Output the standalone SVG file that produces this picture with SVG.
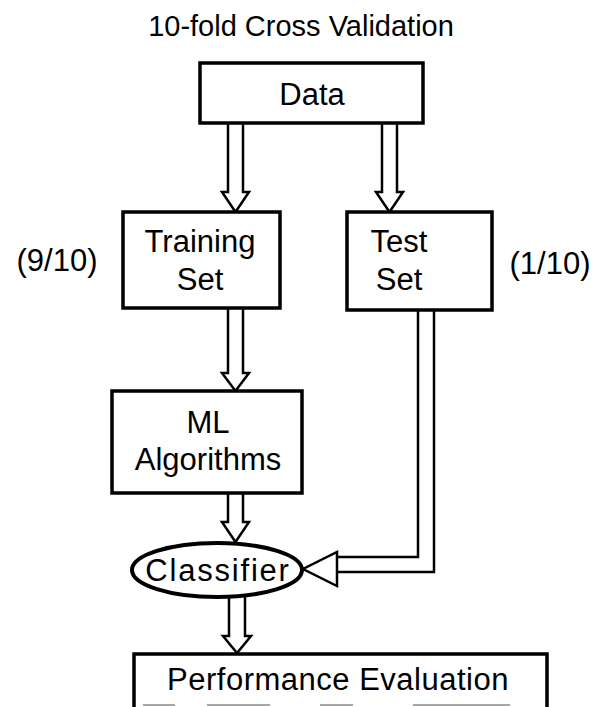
<svg xmlns="http://www.w3.org/2000/svg" width="604" height="707" viewBox="0 0 604 707">
<style>
text{font-family:"Liberation Sans",Arial,sans-serif;font-size:31px;fill:#000;text-anchor:middle}
.box{fill:#fff;stroke:#000;stroke-width:3.5}
.arr{fill:#fff;stroke:#000;stroke-width:2.5;stroke-linejoin:miter}
.dl{fill:none;stroke:#000;stroke-width:2.5}
</style>
<rect width="604" height="707" fill="#fff"/>
<text x="301" y="36" style="font-size:29px">10-fold Cross Validation</text>
<text x="57" y="271">(9/10)</text>
<text x="550" y="274">(1/10)</text>
<g id="connectors">
<path class="arr" d="M228 123 V192 H222 L235.5 212 L249 192 H243 V123"/>
<path class="arr" d="M382 123 V192 H376 L389.5 212 L403 192 H397 V123"/>
<path class="arr" d="M228 308 V373 H222 L235.5 391 L249 373 H243 V308"/>
<path class="arr" d="M228 493 V522 H222 L235.5 542 L249 522 H243 V493"/>
<path class="arr" d="M229 597 V636 H223 L237 653 L251 636 H245 V597"/>
<path class="dl" d="M418 310 V557 H337 M434 310 V572 H337"/>
<path class="arr" d="M337 552 V586 L303 569 Z"/>
</g>
<g id="data"><rect class="box" x="200" y="63" width="223" height="60"/><text x="312" y="105">Data</text></g>
<g id="training"><rect class="box" x="123" y="212" width="157" height="96"/><text x="200" y="252">Training</text><text x="200" y="290">Set</text></g>
<g id="test"><rect class="box" x="347" y="212" width="145" height="98"/><text x="399" y="252">Test</text><text x="399" y="290">Set</text></g>
<g id="ml"><rect class="box" x="112" y="391" width="190" height="102"/><text x="208" y="433">ML</text><text x="208" y="470">Algorithms</text></g>
<g id="classifier"><ellipse cx="217" cy="570" rx="85" ry="27" fill="#fff" stroke="#000" stroke-width="4"/><text x="218" y="581" style="letter-spacing:1.8px">Classifier</text></g>
<g id="performance">
<path d="M134 707 V654 H547 V707" fill="#fff" stroke="#000" stroke-width="3.5"/>
<path d="M143 705 H175 M207 705 H270 M320 705 H353 M413 705 H510" stroke="#888" stroke-width="1.5"/>
<text x="338" y="690" style="letter-spacing:0.5px">Performance Evaluation</text>
</g>
</svg>
